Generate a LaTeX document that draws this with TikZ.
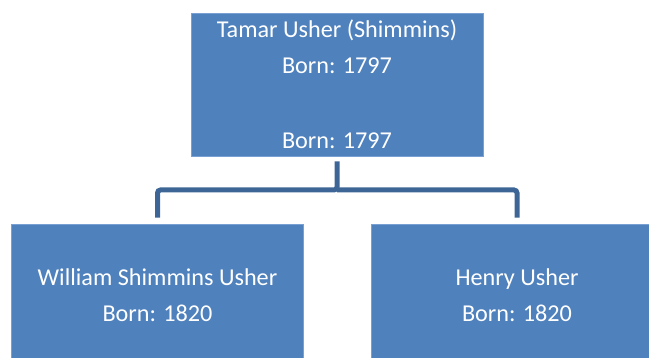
\documentclass[tikz,border=0pt]{standalone}
\usepackage{fontspec}
\setmainfont{Carlito}
\definecolor{boxblue}{RGB}{79,129,189}
\definecolor{boxedge}{RGB}{120,160,210}
\definecolor{linkblue}{RGB}{61,102,150}
\begin{document}
\begin{tikzpicture}[x=1pt,y=-1pt,
  person/.style={rectangle, fill=boxblue, draw=boxedge, line width=0.6pt,
    minimum width=292pt, minimum height=143pt, inner sep=0pt,
    text=white, align=center, font=\fontsize{24.2}{36}\selectfont},
  link/.style={draw=linkblue, line width=5pt, rounded corners=3pt}]
  \useasboundingbox (0,0) rectangle (649,358);
  \clip (0,0) rectangle (649,358);
  % parent
  \node[person] (tamar) at (337,84.5)
    {Tamar Usher (Shimmins)\\Born: 1797\\[39pt]Born: 1797};
  % children
  \node[person] (william) at (157.5,295.5)
    {William Shimmins Usher\\Born: 1820};
  \node[person] (henry) at (517,295.5)
    {Henry Usher\\Born: 1820};
  % connectors
  \coordinate (fork) at (337,190);
  \draw[link, shorten <=5pt, shorten >=6pt] (tamar.south) -- (fork) -| (william.north);
  \draw[link, shorten >=6pt] (fork) -| (henry.north);
\end{tikzpicture}
\end{document}
